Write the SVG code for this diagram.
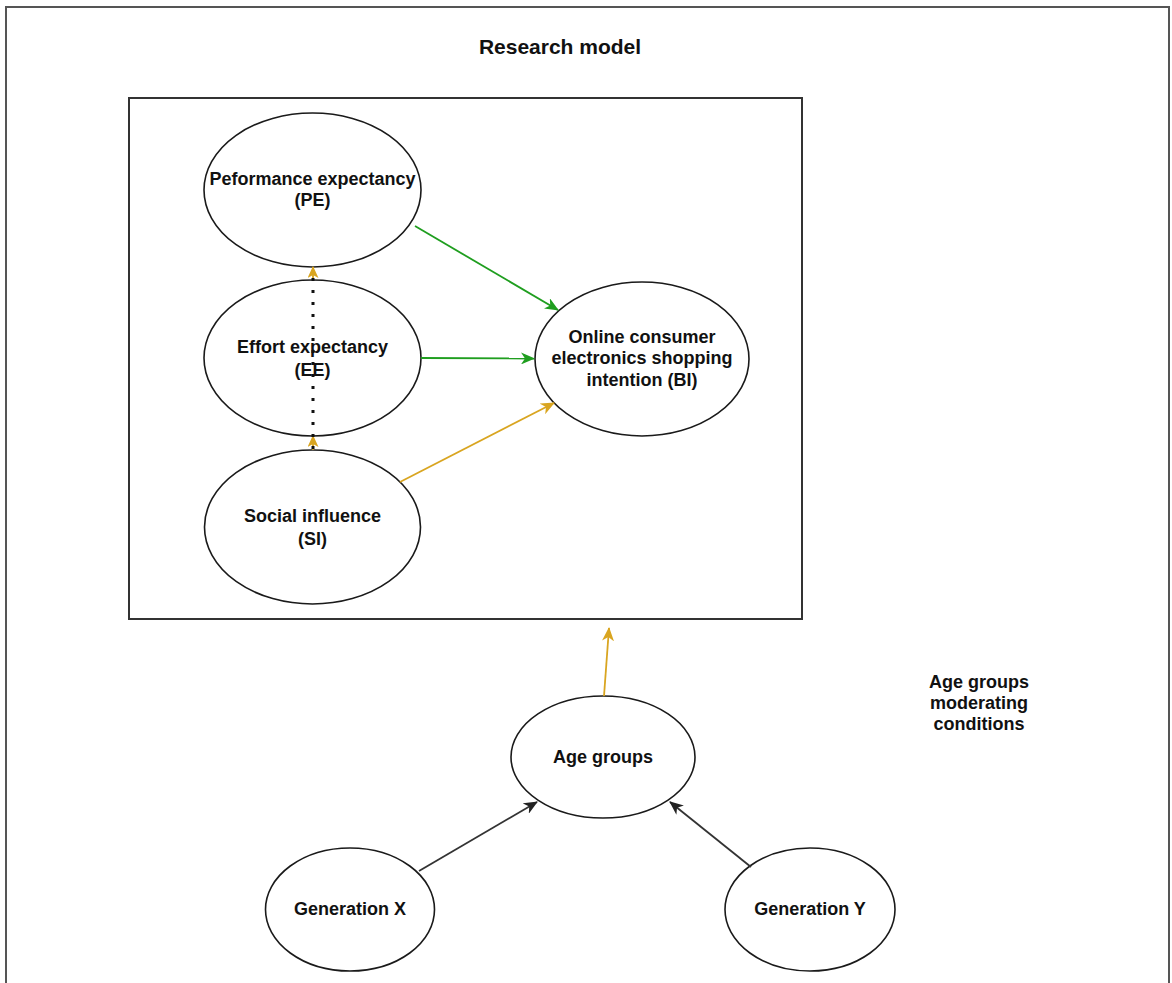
<svg xmlns="http://www.w3.org/2000/svg" width="1172" height="983" viewBox="0 0 1172 983">
<style>
.n ellipse{fill:#fff;stroke:#1a1a1a;stroke-width:1.6}
.t{font-family:"Liberation Sans",Arial,sans-serif;font-weight:bold;font-size:18px;fill:#111;text-anchor:middle}
.g{stroke:#1f9e1f;stroke-width:1.8;fill:none}
.o{stroke:#d9a520;stroke-width:1.8;fill:none}
.k{stroke:#333;stroke-width:1.8;fill:none}
</style>
<defs>
<marker id="ag" viewBox="0 0 14 12" refX="13" refY="6" markerWidth="14" markerHeight="12" markerUnits="userSpaceOnUse" orient="auto"><path d="M0,0 L14,6 L0,12 L4,6 z" fill="#1f9e1f"/></marker>
<marker id="ao" viewBox="0 0 14 12" refX="13" refY="6" markerWidth="14" markerHeight="12" markerUnits="userSpaceOnUse" orient="auto"><path d="M0,0 L14,6 L0,12 L4,6 z" fill="#d9a520"/></marker>
<marker id="ao2" viewBox="0 0 12 11" refX="11" refY="5.5" markerWidth="12" markerHeight="11" markerUnits="userSpaceOnUse" orient="auto"><path d="M0,0 L12,5.5 L0,11 L3,5.5 z" fill="#d9a520"/></marker>
<marker id="ak" viewBox="0 0 14 12" refX="13" refY="6" markerWidth="14" markerHeight="12" markerUnits="userSpaceOnUse" orient="auto"><path d="M0,0 L14,6 L0,12 L4,6 z" fill="#222"/></marker>
</defs>
<rect width="1172" height="983" fill="#fff"/>
<rect id="frame" x="6" y="7" width="1163" height="990" fill="none" stroke="#555" stroke-width="2"/>
<text class="t" x="560" y="54" style="font-size:21px">Research model</text>
<rect id="model-box" x="129" y="98" width="673" height="521" fill="none" stroke="#333" stroke-width="2"/>

<g id="PE" class="n"><ellipse cx="312.5" cy="190" rx="108.5" ry="77"/><text class="t" x="312.5" y="185">Peformance expectancy</text><text class="t" x="312.5" y="206">(PE)</text></g>
<g id="EE" class="n"><ellipse cx="312.5" cy="358" rx="108.5" ry="78"/><text class="t" x="312.5" y="353">Effort expectancy</text><text class="t" x="312.5" y="376">(EE)</text></g>
<g id="SI" class="n"><ellipse cx="312.5" cy="527" rx="108" ry="77"/><text class="t" x="312.5" y="522">Social influence</text><text class="t" x="312.5" y="545">(SI)</text></g>
<g id="BI" class="n"><ellipse cx="642" cy="359" rx="107" ry="77"/><text class="t" x="642" y="343">Online consumer</text><text class="t" x="642" y="364">electronics shopping</text><text class="t" x="642" y="386">intention (BI)</text></g>
<g id="AGE" class="n"><ellipse cx="603" cy="757" rx="92" ry="61"/><text class="t" x="603" y="763">Age groups</text></g>
<g id="GX" class="n"><ellipse cx="350" cy="909.5" rx="84.5" ry="61.5"/><text class="t" x="350" y="915">Generation X</text></g>
<g id="GY" class="n"><ellipse cx="810" cy="909.5" rx="85" ry="61.5"/><text class="t" x="810" y="915">Generation Y</text></g>
<g id="label"><text class="t" x="979" y="688">Age groups</text><text class="t" x="979" y="709">moderating</text><text class="t" x="979" y="730">conditions</text></g>

<g id="connectors">
<line class="g" x1="415" y1="226" x2="558" y2="310" marker-end="url(#ag)"/>
<line class="g" x1="421" y1="358" x2="534" y2="358.5" marker-end="url(#ag)"/>
<line class="o" x1="400" y1="482" x2="554" y2="403" marker-end="url(#ao)"/>
<line class="o" x1="313" y1="450" x2="313" y2="436" marker-end="url(#ao2)"/>
<line class="o" x1="313" y1="281" x2="313" y2="267" marker-end="url(#ao2)"/>
<line x1="313" y1="449" x2="313" y2="271" stroke="#111" stroke-width="3" stroke-dasharray="3 9"/>
<line class="o" x1="604" y1="696" x2="609" y2="628" marker-end="url(#ao)"/>
<line class="k" x1="419" y1="871" x2="537" y2="802" marker-end="url(#ak)"/>
<line class="k" x1="751" y1="867" x2="670" y2="802" marker-end="url(#ak)"/>
</g>
</svg>
